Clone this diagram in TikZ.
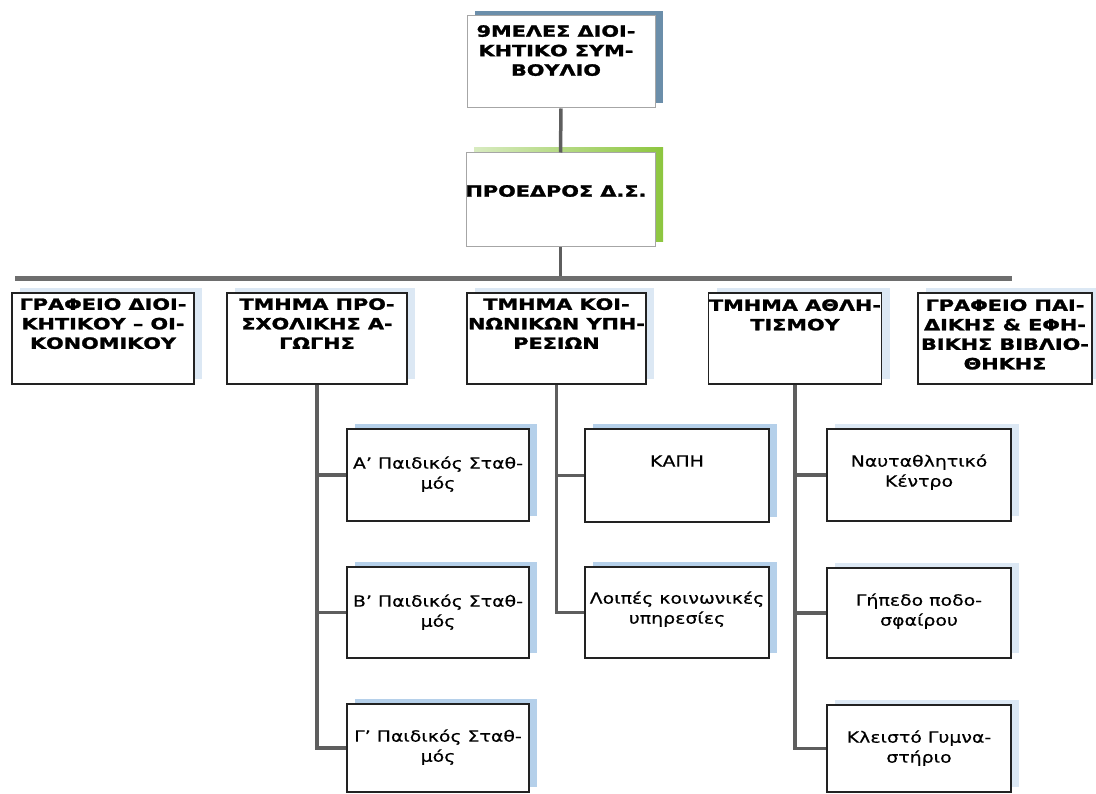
\documentclass[tikz,border=0pt]{standalone}
\usepackage{fontspec}
\usetikzlibrary{shadows}
\newfontfamily\hfont{DejaVu Sans}[FakeStretch=1.34, BoldFeatures={FakeBold=1.6}]
\newfontfamily\sfont{DejaVu Sans}[FakeStretch=1.22, FakeBold=0.5]
\definecolor{conn}{HTML}{5E5E5E}
\definecolor{barcol}{HTML}{6E6E6E}
\definecolor{boxline}{HTML}{222222}
\definecolor{steel}{HTML}{6B8EAA}
\definecolor{lgreen}{HTML}{D8EBC0}
\definecolor{dgreen}{HTML}{8DC63F}
\definecolor{subsh}{HTML}{B5D0EA}
\definecolor{rowsh}{HTML}{DCE8F4}
\begin{document}
\begin{tikzpicture}[x=1pt,y=-1pt,
  box/.style={draw=boxline, line width=1.8pt, fill=white, inner sep=0pt},
  topbox/.style={draw=gray!70, line width=1pt, fill=white, inner sep=0pt},
  bshadow/.style={general shadow={fill=#1, draw=none, shadow xshift=8pt, shadow yshift=5pt}},
  htext/.style={font=\hfont\bfseries\fontsize{15.5}{19.5}\selectfont, align=center, inner sep=0pt, text=black},
  stext/.style={font=\sfont\fontsize{15.5}{20}\selectfont, align=center, inner sep=0pt, text=black},
  conn/.style={draw=conn, line width=3.5pt},
  bar/.style={draw=barcol, line width=5pt}]
\useasboundingbox (0,0) rectangle (1096,794);
\clip (0,0) rectangle (1096,794);

% top boxes
\node[topbox, bshadow=steel, minimum width=188pt, minimum height=92pt] (top) at (561,62) {};
\node[topbox, general shadow={left color=lgreen, right color=dgreen, draw=none, shadow xshift=8pt, shadow yshift=5pt}, minimum width=189pt, minimum height=94pt] (prez) at (560.5,200) {};
\node[htext, anchor=north] (ttop) at (556,25) {9ΜΕΛΕΣ ΔΙΟΙ-\\ΚΗΤΙΚΟ ΣΥΜ-\\ΒΟΥΛΙΟ};
\node[htext] (tprez) at (556,191) {ΠΡΟΕΔΡΟΣ Δ.Σ.};

% bar
\coordinate (barL) at (15,279);
\coordinate (barR) at (1012,279);
\draw[conn] (top.south) -- (prez.north);
\draw[conn] (prez.south) -- (prez.south |- barL);
\draw[bar] (barL) -- (barR);

% row boxes
\node[box, bshadow=rowsh, minimum width=182pt, minimum height=91pt] (b1) at (103,338.5) {};
\node[box, bshadow=rowsh, minimum width=180pt, minimum height=91pt] (b2) at (317,338.5) {};
\node[box, bshadow=rowsh, minimum width=179pt, minimum height=91pt] (b3) at (556.5,338.5) {};
\node[box, bshadow=rowsh, minimum width=173pt, minimum height=91pt] (b4) at (795,338.5) {};
\node[box, bshadow=rowsh, minimum width=174pt, minimum height=91pt] (b5) at (1005,338.5) {};

\node[htext, anchor=north] (t1) at ([yshift=-6pt]b1.north) {ΓΡΑΦΕΙΟ ΔΙΟΙ-\\ΚΗΤΙΚΟΥ – ΟΙ-\\ΚΟΝΟΜΙΚΟΥ};
\node[htext, anchor=north] (t2) at ([yshift=-6pt]b2.north) {ΤΜΗΜΑ ΠΡΟ-\\ΣΧΟΛΙΚΗΣ Α-\\ΓΩΓΗΣ};
\node[htext, anchor=north] (t3) at ([yshift=-6pt]b3.north) {ΤΜΗΜΑ ΚΟΙ-\\ΝΩΝΙΚΩΝ ΥΠΗ-\\ΡΕΣΙΩΝ};
\node[htext, anchor=north] (t4) at ([yshift=-7pt]b4.north) {ΤΜΗΜΑ ΑΘΛΗ-\\ΤΙΣΜΟΥ};
\node[htext, anchor=north] (t5) at ([yshift=-7pt]b5.north) {ΓΡΑΦΕΙΟ ΠΑΙ-\\ΔΙΚΗΣ \& ΕΦΗ-\\ΒΙΚΗΣ ΒΙΒΛΙΟ-\\ΘΗΚΗΣ};

% sub boxes
\node[box, bshadow=subsh, minimum width=182pt, minimum height=92pt] (sa) at (438,475) {};
\node[box, bshadow=subsh, minimum width=182pt, minimum height=91pt] (sb) at (438,612.5) {};
\node[box, bshadow=subsh, minimum width=182pt, minimum height=88pt] (sc) at (438,748) {};
\node[box, bshadow=subsh, minimum width=184pt, minimum height=93pt] (ka) at (677,475.5) {};
\node[box, bshadow=subsh, minimum width=184pt, minimum height=91pt] (lo) at (677,612.5) {};
\node[box, bshadow=rowsh, minimum width=184pt, minimum height=92pt] (na) at (919,475) {};
\node[box, bshadow=rowsh, minimum width=184pt, minimum height=90pt] (gi) at (919,613) {};
\node[box, bshadow=rowsh, minimum width=184pt, minimum height=87pt] (kl) at (919,748.5) {};

\node[stext, anchor=north] (tsa) at ([yshift=-28pt]sa.north) {Α’ Παιδικός Σταθ-\\μός};
\node[stext, anchor=north] (tsb) at ([yshift=-28pt]sb.north) {Β’ Παιδικός Σταθ-\\μός};
\node[stext, anchor=north] (tsc) at ([yshift=-26pt]sc.north) {Γ’ Παιδικός Σταθ-\\μός};
\node[stext, anchor=north] (tka) at ([yshift=-27pt]ka.north) {ΚΑΠΗ};
\node[stext, anchor=north] (tlo) at ([yshift=-25pt]lo.north) {Λοιπές κοινωνικές\\υπηρεσίες};
\node[stext, anchor=north] (tna) at ([yshift=-26pt]na.north) {Ναυταθλητικό\\Κέντρο};
\node[stext, anchor=north] (tgi) at ([yshift=-26pt]gi.north) {Γήπεδο ποδο-\\σφαίρου};
\node[stext, anchor=north] (tkl) at ([yshift=-26pt]kl.north) {Κλειστό Γυμνα-\\στήριο};

% sub connectors
\draw[conn] (b2.south) |- (sa.west);
\draw[conn] (b2.south) |- (sb.west);
\draw[conn] (b2.south) |- (sc.west);
\draw[conn] (b3.south) |- (ka.west);
\draw[conn] (b3.south) |- (lo.west);
\draw[conn] (b4.south) |- (na.west);
\draw[conn] (b4.south) |- (gi.west);
\draw[conn] (b4.south) |- (kl.west);
\end{tikzpicture}
\end{document}
